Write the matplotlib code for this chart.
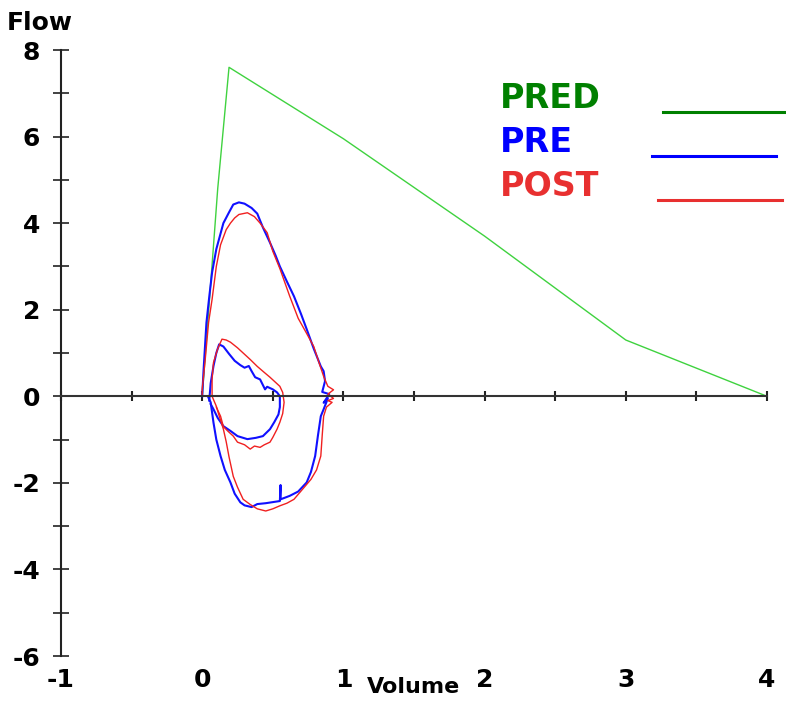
import matplotlib.pyplot as plt
from matplotlib.ticker import MultipleLocator
from matplotlib.transforms import blended_transform_factory
from matplotlib.lines import Line2D

# predicted curve
pred_vol = [0.0, 0.06, 0.11, 0.19, 1.0, 2.0, 3.0, 4.0]
pred_flow = [0.0, 2.6, 4.8, 7.6, 5.95, 3.7, 1.3, 0.0]

# pre bronchodilator, forced loop
pre_vol = [0.00, 0.01, 0.03, 0.05, 0.07, 0.10, 0.15, 0.19, 0.22, 0.26, 0.30, 0.35,
           0.39, 0.43, 0.48, 0.52, 0.55, 0.60, 0.65, 0.70, 0.74, 0.79, 0.84, 0.86,
           0.87, 0.85, 0.90, 0.86, 0.89, 0.86, 0.84, 0.82, 0.80, 0.77, 0.74, 0.68,
           0.62, 0.58, 0.555, 0.555, 0.55, 0.45, 0.39, 0.35, 0.30, 0.27, 0.23, 0.20,
           0.16, 0.13, 0.10, 0.08, 0.06, 0.04]
pre_flow = [0.00, 0.62, 1.70, 2.30, 2.86, 3.40, 4.00, 4.25, 4.43, 4.48, 4.45, 4.35,
            4.22, 3.90, 3.55, 3.25, 3.00, 2.65, 2.31, 1.90, 1.55, 1.10, 0.69, 0.58,
            0.35, 0.10, 0.05, -0.15, -0.05, -0.30, -0.46, -0.90, -1.38, -1.75, -1.99, -2.20,
            -2.30, -2.35, -2.38, -2.05, -2.42, -2.47, -2.49, -2.56, -2.52, -2.45, -2.25, -1.99,
            -1.70, -1.38, -1.00, -0.61, -0.14, 0.00]

# pre bronchodilator, tidal loop
pre_tid_vol = [0.05, 0.06, 0.08, 0.10, 0.12, 0.15, 0.19, 0.23, 0.27, 0.30, 0.33, 0.35,
               0.375, 0.41, 0.445, 0.46, 0.50, 0.53, 0.55, 0.55, 0.54, 0.51, 0.48, 0.43,
               0.38, 0.32, 0.25, 0.20, 0.15, 0.11, 0.08, 0.06]
pre_tid_flow = [-0.10, 0.30, 0.70, 1.00, 1.20, 1.15, 0.98, 0.82, 0.72, 0.66, 0.70, 0.58,
                0.44, 0.39, 0.16, 0.22, 0.16, 0.09, 0.00, -0.25, -0.42, -0.60, -0.76, -0.92,
                -0.96, -0.99, -0.92, -0.80, -0.69, -0.50, -0.30, -0.18]

# post bronchodilator, forced loop
post_vol = [0.00, 0.00, 0.02, 0.045, 0.07, 0.10, 0.13, 0.17, 0.20, 0.23, 0.26, 0.32,
            0.37, 0.41, 0.46, 0.50, 0.55, 0.62, 0.68, 0.74, 0.79, 0.83, 0.86, 0.89,
            0.93, 0.89, 0.93, 0.89, 0.92, 0.88, 0.86, 0.85, 0.84, 0.81, 0.77, 0.71,
            0.65, 0.60, 0.55, 0.50, 0.45, 0.39, 0.34, 0.29, 0.25, 0.22, 0.19, 0.17,
            0.15, 0.12, 0.10, 0.07]
post_flow = [0.00, 0.16, 0.80, 1.70, 2.24, 3.00, 3.50, 3.85, 4.00, 4.12, 4.20, 4.24,
             4.15, 4.00, 3.78, 3.35, 2.95, 2.31, 1.80, 1.45, 1.15, 0.75, 0.46, 0.23,
             0.15, 0.05, -0.05, -0.10, -0.14, -0.25, -0.46, -0.90, -1.38, -1.70, -1.92, -2.15,
             -2.38, -2.47, -2.53, -2.60, -2.65, -2.60, -2.50, -2.38, -2.10, -1.85, -1.40, -1.05,
             -0.76, -0.45, -0.23, 0.00]

# post bronchodilator, tidal loop
post_tid_vol = [0.07, 0.07, 0.08, 0.11, 0.14, 0.17, 0.20, 0.25, 0.29, 0.34, 0.39, 0.44,
                0.48, 0.52, 0.55, 0.57, 0.58, 0.57, 0.55, 0.53, 0.50, 0.48, 0.44, 0.41,
                0.37, 0.34, 0.30, 0.25, 0.22, 0.18, 0.15, 0.13, 0.10]
post_tid_flow = [0.00, 0.40, 0.78, 1.10, 1.32, 1.30, 1.25, 1.12, 1.00, 0.85, 0.69, 0.55,
                 0.44, 0.32, 0.23, 0.09, -0.14, -0.40, -0.60, -0.76, -0.95, -1.06, -1.12, -1.18,
                 -1.15, -1.22, -1.12, -1.06, -0.92, -0.80, -0.70, -0.46, -0.25]

x_labels = ["-1", "0", "1", "2", "3", "4"]
y_major = [-6, -4, -2, 0, 2, 4, 6, 8]

fig = plt.figure(figsize=(7.86, 7.02), dpi=100)
ax = fig.add_axes([61 / 786, 46 / 702, 706 / 786, 606 / 702])

ax.plot(pred_vol, pred_flow, color="#3fd23f", lw=1.0, clip_on=False)
ax.plot(pre_vol, pre_flow, color="#1010ff", lw=1.5, clip_on=False)
ax.plot(pre_tid_vol, pre_tid_flow, color="#1010ff", lw=1.5, clip_on=False)
ax.plot(post_vol, post_flow, color="#f02020", lw=1.0, clip_on=False)
ax.plot(post_tid_vol, post_tid_flow, color="#f02020", lw=1.0, clip_on=False)

ax.set_xlim(-1, 4)
ax.set_ylim(-6, 8)

for s in ["top", "right"]:
    ax.spines[s].set_visible(False)
ax.spines["left"].set_linewidth(1.5)
ax.spines["left"].set_color("#222222")
ax.spines["bottom"].set_position(("data", 0))
ax.spines["bottom"].set_linewidth(1.5)
ax.spines["bottom"].set_color("#333333")

ax.xaxis.set_major_locator(MultipleLocator(0.5))
ax.tick_params(axis="x", direction="inout", length=7, width=1.5, color="#222222",
               labelbottom=False)
ax.set_yticks(y_major)
ax.yaxis.set_minor_locator(MultipleLocator(1))
ax.tick_params(axis="y", which="both", direction="inout", length=12, width=1.2,
               color="#222222")
ax.set_yticklabels([str(v) for v in y_major], fontsize=18, fontweight="bold",
                   family="DejaVu Sans")
ax.tick_params(axis="y", pad=9)

# x tick labels sit at the bottom of the figure
tr = blended_transform_factory(ax.transData, fig.transFigure)
for i, lab in enumerate(x_labels):
    ax.text(i - 1, 1 - 680 / 702, lab, transform=tr, ha="center", va="center",
            fontsize=18, fontweight="bold")
ax.text(1.5, 1 - 677 / 702, "Volume", transform=tr, ha="center", va="top",
        fontsize=16, fontweight="bold")

fig.text(7 / 786, 1 - 30 / 702, "Flow", ha="left", va="baseline",
         fontsize=18, fontweight="bold")

# legend
leg_names = ["PRED", "PRE", "POST"]
leg_text_colors = ["#008000", "#0000ff", "#e83030"]
leg_line_colors = ["#008000", "#0000ff", "#e83030"]
leg_base = [108, 152, 196]
leg_line_x = [(663, 786), (652, 776), (658, 782)]
for name, tc, lc, yb, (x0, x1) in zip(leg_names, leg_text_colors, leg_line_colors,
                                      leg_base, leg_line_x):
    fig.text(500 / 786, 1 - yb / 702, name, color=tc, ha="left", va="baseline",
             fontsize=24, fontweight="bold")
    fig.add_artist(Line2D([x0 / 786, x1 / 786], [1 - (yb + 4) / 702] * 2,
                          color=lc, lw=2.2, transform=fig.transFigure))

fig.savefig("out.png", dpi=100)
